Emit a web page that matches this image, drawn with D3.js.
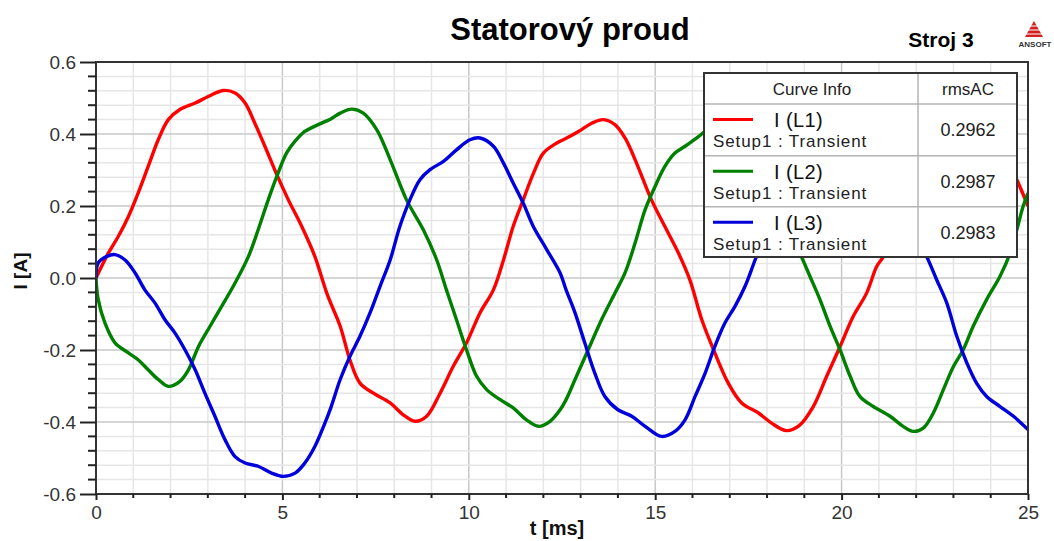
<!DOCTYPE html>
<html><head><meta charset="utf-8">
<script src="https://cdn.jsdelivr.net/npm/d3@7"></script>
<style>body{margin:0;background:#fff}svg{display:block;font-family:Arial,"Liberation Sans",sans-serif}</style>
</head><body><svg id="c" width="1054" height="541"></svg>
<script>
const titleText = "Statorový proud";
const subtitleText = "Stroj 3";
const xLabel = "t [ms]";
const yLabel = "I [A]";
const xTicks = [0, 5, 10, 15, 20, 25];
const yTicks = [-0.6, -0.4, -0.2, 0.0, 0.2, 0.4, 0.6];
const yTickLabels = ["-0.6", "-0.4", "-0.2", "0.0", "0.2", "0.4", "0.6"];
const seriesNames = ["I (L1)", "I (L2)", "I (L3)"];
const seriesSetup = "Setup1 : Transient";
const seriesColors = ["#ff0000", "#008000", "#0000dd"];
const rmsAC = ["0.2962", "0.2987", "0.2983"];

const curveL1 = [[0,0],[0.33,0.069],[0.6,0.116],[0.87,0.171],[1.13,0.236],[1.4,0.31],[1.67,0.384],[1.94,0.44],[2.25,0.468],[2.66,0.486],[3.01,0.504],[3.41,0.521],[3.73,0.514],[4.0,0.486],[4.26,0.43],[4.53,0.366],[4.85,0.287],[5.16,0.217],[5.52,0.143],[5.87,0.06],[6.2,-0.045],[6.55,-0.134],[6.81,-0.227],[7.08,-0.292],[7.44,-0.32],[7.89,-0.347],[8.24,-0.38],[8.56,-0.398],[8.87,-0.384],[9.23,-0.32],[9.58,-0.246],[9.94,-0.18],[10.3,-0.097],[10.66,-0.033],[10.93,0.05],[11.19,0.143],[11.46,0.217],[11.73,0.29],[12.0,0.347],[12.36,0.375],[12.65,0.39],[12.94,0.407],[13.3,0.43],[13.61,0.44],[13.92,0.426],[14.19,0.389],[14.46,0.329],[14.9,0.217],[15.26,0.143],[15.62,0.07],[15.93,-0.005],[16.25,-0.116],[16.6,-0.208],[16.96,-0.292],[17.32,-0.347],[17.77,-0.375],[18.12,-0.403],[18.52,-0.424],[18.86,-0.41],[19.24,-0.357],[19.6,-0.273],[19.96,-0.19],[20.31,-0.107],[20.67,-0.042],[20.94,0.032],[21.12,0.06],[21.46,0.17],[21.73,0.26],[22.0,0.32],[22.36,0.36],[22.7,0.385],[23.0,0.4],[23.3,0.42],[23.6,0.435],[23.9,0.425],[24.2,0.39],[24.45,0.33],[24.74,0.264],[25,0.2]];

const curveL2 = [[0,0],[0.06,-0.06],[0.24,-0.125],[0.51,-0.18],[0.87,-0.208],[1.13,-0.227],[1.4,-0.255],[1.67,-0.282],[1.94,-0.301],[2.25,-0.287],[2.48,-0.255],[2.75,-0.19],[3.06,-0.134],[3.37,-0.079],[3.73,-0.014],[4.09,0.06],[4.35,0.134],[4.62,0.217],[4.85,0.282],[5.11,0.347],[5.34,0.38],[5.6,0.407],[5.96,0.426],[6.3,0.442],[6.55,0.458],[6.86,0.469],[7.17,0.458],[7.53,0.412],[7.89,0.329],[8.33,0.217],[8.78,0.134],[9.14,0.05],[9.4,-0.033],[9.67,-0.116],[9.94,-0.2],[10.21,-0.273],[10.48,-0.31],[10.84,-0.338],[11.19,-0.361],[11.55,-0.394],[11.87,-0.412],[12.18,-0.398],[12.45,-0.366],[12.6,-0.34],[12.85,-0.282],[13.2,-0.2],[13.56,-0.116],[13.92,-0.042],[14.19,0.014],[14.46,0.097],[14.73,0.19],[15.0,0.255],[15.26,0.31],[15.53,0.347],[15.8,0.366],[16.16,0.393],[16.34,0.407],[16.6,0.418],[16.9,0.43],[17.2,0.42],[17.5,0.38],[17.9,0.3],[18.3,0.2],[18.6,0.13],[18.88,0.069],[19.15,0.005],[19.42,-0.06],[19.69,-0.134],[19.96,-0.2],[20.23,-0.273],[20.49,-0.329],[20.85,-0.357],[21.3,-0.384],[21.65,-0.412],[21.92,-0.426],[22.19,-0.417],[22.46,-0.375],[22.73,-0.31],[23.0,-0.246],[23.26,-0.2],[23.53,-0.134],[23.89,-0.06],[24.25,0.005],[24.52,0.069],[24.7,0.134],[24.87,0.199],[25,0.236]];

const curveL3 = [[0,0],[0.06,0.042],[0.29,0.06],[0.51,0.065],[0.78,0.05],[1.05,0.014],[1.31,-0.033],[1.58,-0.069],[1.85,-0.116],[2.12,-0.153],[2.39,-0.2],[2.66,-0.255],[2.92,-0.32],[3.19,-0.384],[3.46,-0.449],[3.73,-0.496],[4.0,-0.514],[4.35,-0.523],[4.71,-0.542],[5.02,-0.551],[5.34,-0.542],[5.6,-0.514],[5.87,-0.468],[6.14,-0.403],[6.3,-0.36],[6.55,-0.282],[6.81,-0.218],[7.08,-0.162],[7.35,-0.097],[7.62,-0.023],[7.89,0.05],[8.15,0.143],[8.42,0.217],[8.69,0.273],[8.96,0.301],[9.32,0.324],[9.67,0.356],[10.03,0.384],[10.3,0.389],[10.66,0.366],[10.93,0.319],[11.19,0.264],[11.46,0.208],[11.73,0.143],[12.09,0.079],[12.45,0.014],[12.6,-0.03],[12.85,-0.097],[13.11,-0.18],[13.38,-0.264],[13.65,-0.329],[14.0,-0.366],[14.37,-0.384],[14.73,-0.412],[15.17,-0.44],[15.53,-0.426],[15.8,-0.394],[16.07,-0.329],[16.34,-0.264],[16.6,-0.19],[16.87,-0.125],[17.14,-0.079],[17.41,-0.023],[17.68,0.05],[17.95,0.12],[18.2,0.19],[18.5,0.25],[18.8,0.29],[19.1,0.31],[19.4,0.33],[19.75,0.36],[20.05,0.385],[20.35,0.39],[20.65,0.37],[20.95,0.32],[21.2,0.265],[21.5,0.205],[21.75,0.145],[22.05,0.1],[22.28,0.06],[22.55,-0.005],[22.82,-0.069],[23.09,-0.162],[23.36,-0.236],[23.62,-0.292],[23.89,-0.329],[24.25,-0.357],[24.61,-0.384],[25,-0.421]];

const curves = [curveL1, curveL2, curveL3];

const svg = d3.select("#c");
const L = 96, R = 1028, T = 62, B = 494;
const x = d3.scaleLinear().domain([0, 25]).range([L, R]);
const y = d3.scaleLinear().domain([-0.6, 0.6]).range([B, T]);

// grid
const g = svg.append("g");
const xMinor = d3.range(0, 26, 1);
const yMinor = d3.range(-0.6, 0.6001, 0.04).map(v => +v.toFixed(2));
const isMajorY = v => Math.abs(Math.round(v * 5) - v * 5) < 1e-6;
g.selectAll(".gx").data(xMinor).join("line")
  .attr("x1", d => x(d)).attr("x2", d => x(d)).attr("y1", T).attr("y2", B)
  .attr("stroke", d => d % 5 === 0 ? "#c8c8c8" : "#e6e6e6").attr("stroke-width", 1.5);
g.selectAll(".gy").data(yMinor).join("line")
  .attr("x1", L).attr("x2", R).attr("y1", d => y(d)).attr("y2", d => y(d))
  .attr("stroke", d => isMajorY(d) ? "#c8c8c8" : "#e6e6e6").attr("stroke-width", 1.5);

// curves
svg.append("clipPath").attr("id", "clip").append("rect").attr("x", L).attr("y", T).attr("width", R - L).attr("height", B - T);
const line = d3.line().x(d => x(d[0])).y(d => y(d[1])).curve(d3.curveCatmullRom.alpha(0.5));
svg.append("g").attr("clip-path", "url(#clip)").selectAll("path").data(curves).join("path")
  .attr("d", line).attr("fill", "none").attr("stroke", (d, i) => seriesColors[i])
  .attr("stroke-width", 3.4).attr("stroke-linejoin", "round");

// frame
svg.append("rect").attr("x", L).attr("y", T).attr("width", R - L).attr("height", B - T)
  .attr("fill", "none").attr("stroke", "#333").attr("stroke-width", 2);

// y axis ticks
const yAxis = d3.axisLeft(y).tickValues(yTicks).tickSize(16).tickFormat((d, i) => yTickLabels[i]).tickPadding(4);
const ya = svg.append("g").attr("transform", `translate(${L},0)`).call(yAxis);
ya.select(".domain").remove();
ya.selectAll(".tick line").attr("stroke", "#222").attr("stroke-width", 2);
ya.selectAll(".tick text").attr("font-size", 19).attr("fill", "#333").attr("font-family", "Arial, 'Liberation Sans', sans-serif");
svg.append("g").selectAll("line").data(yMinor.filter(v => !isMajorY(v))).join("line")
  .attr("x1", L - 8).attr("x2", L).attr("y1", d => y(d)).attr("y2", d => y(d)).attr("stroke", "#222").attr("stroke-width", 2);

// x axis ticks
const xAxis = d3.axisBottom(x).tickValues(xTicks).tickSize(6).tickFormat(d3.format("d")).tickPadding(6);
const xa = svg.append("g").attr("transform", `translate(0,${B})`).call(xAxis);
xa.select(".domain").remove();
xa.selectAll(".tick line").attr("stroke", "#222").attr("stroke-width", 2);
xa.selectAll(".tick text").attr("font-size", 19).attr("fill", "#333").attr("font-family", "Arial, 'Liberation Sans', sans-serif");
svg.append("g").selectAll("line").data(xMinor.filter(v => v % 5 !== 0)).join("line")
  .attr("x1", d => x(d)).attr("x2", d => x(d)).attr("y1", B).attr("y2", B + 4).attr("stroke", "#222").attr("stroke-width", 2);

// titles
svg.append("text").attr("x", 570).attr("y", 40).attr("text-anchor", "middle")
  .attr("font-size", 31).attr("font-weight", "bold").attr("fill", "#000").text(titleText);
svg.append("text").attr("x", 941).attr("y", 47).attr("text-anchor", "middle")
  .attr("font-size", 21).attr("font-weight", "bold").attr("fill", "#000").text(subtitleText);
svg.append("text").attr("x", 557).attr("y", 535).attr("text-anchor", "middle")
  .attr("font-size", 20).attr("font-weight", "bold").attr("fill", "#111").text(xLabel);
svg.append("text").attr("transform", "translate(27,271) rotate(-90)").attr("text-anchor", "middle")
  .attr("font-size", 19).attr("font-weight", "bold").attr("fill", "#111").text(yLabel);

// logo
const logo = svg.append("g");
logo.append("path").attr("d", "M1034,21 L1025,37 L1043,37 Z").attr("fill", "#d42020");
[26, 30, 34].forEach(yy => logo.append("line").attr("x1", 1020).attr("x2", 1048).attr("y1", yy).attr("y2", yy).attr("stroke", "#fff").attr("stroke-width", 1));
logo.append("text").attr("x", 1035).attr("y", 47).attr("text-anchor", "middle").attr("font-size", 8).attr("font-weight", "bold").attr("fill", "#333").text("ANSOFT");

// legend
const lg = svg.append("g");
const LX = 704, LY = 73, LW = 313, LH = 184, colX = 918;
const rowY = [104, 155.7, 206.7, 257];
lg.append("rect").attr("x", LX).attr("y", LY).attr("width", LW).attr("height", LH).attr("fill", "#fff");
lg.selectAll(".rl").data(rowY.slice(0, 3)).join("line").attr("x1", LX).attr("x2", LX + LW).attr("y1", d => d).attr("y2", d => d)
  .attr("stroke", "#b4b4b4").attr("stroke-width", 1.5);
lg.append("line").attr("x1", colX).attr("x2", colX).attr("y1", LY).attr("y2", LY + LH).attr("stroke", "#b4b4b4").attr("stroke-width", 1.5);
lg.append("rect").attr("x", LX).attr("y", LY).attr("width", LW).attr("height", LH).attr("fill", "none").attr("stroke", "#333").attr("stroke-width", 2);
lg.append("text").attr("x", 812).attr("y", 95).attr("text-anchor", "middle").attr("font-size", 17).attr("fill", "#222").text("Curve Info");
lg.append("text").attr("x", 968).attr("y", 95).attr("text-anchor", "middle").attr("font-size", 17).attr("fill", "#222").text("rmsAC");
seriesNames.forEach((n, i) => {
  const top = rowY[i];
  lg.append("line").attr("x1", 713).attr("x2", 753).attr("y1", top + 15.5).attr("y2", top + 15.5)
    .attr("stroke", seriesColors[i]).attr("stroke-width", 3);
  lg.append("text").attr("x", 774).attr("y", top + 23).attr("font-size", 20).attr("fill", "#111").attr("letter-spacing", 0.4).text(n);
  lg.append("text").attr("x", 713).attr("y", top + 43).attr("font-size", 17).attr("letter-spacing", 0.9).attr("fill", "#222").text(seriesSetup);
  lg.append("text").attr("x", 968).attr("y", top + 32).attr("text-anchor", "middle").attr("font-size", 18).attr("fill", "#222").text(rmsAC[i]);
});
</script></body></html>
